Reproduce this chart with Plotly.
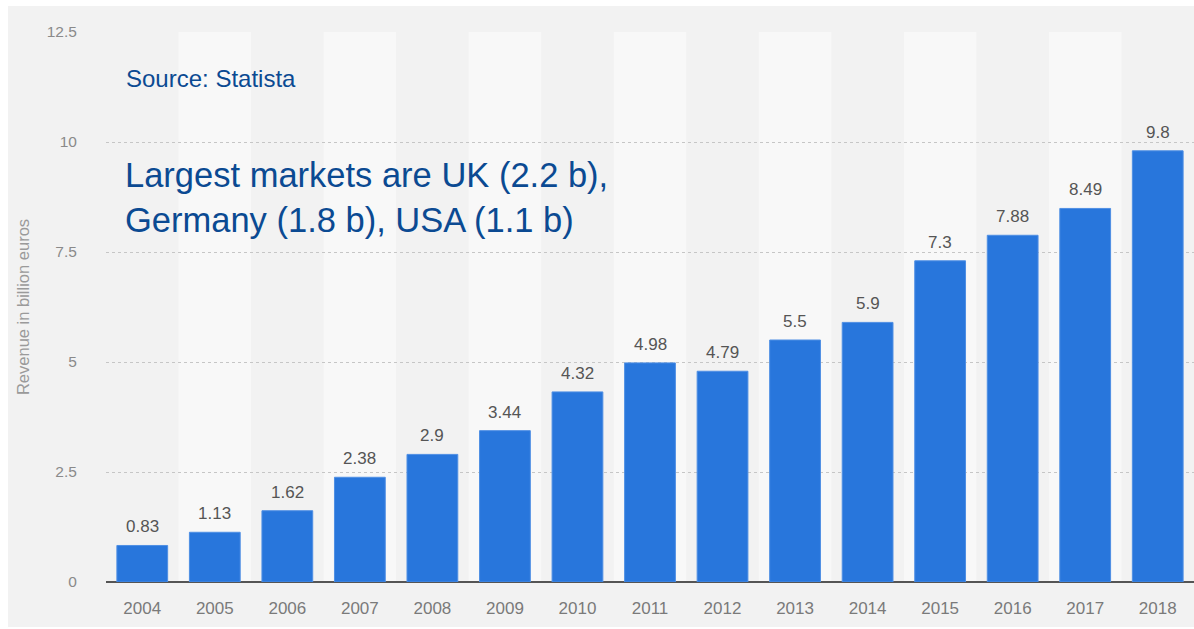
import plotly.graph_objects as go

# Revenue per year, billion euros
years = ["2004", "2005", "2006", "2007", "2008", "2009", "2010", "2011",
         "2012", "2013", "2014", "2015", "2016", "2017", "2018"]
revenue = [0.83, 1.13, 1.62, 2.38, 2.9, 3.44, 4.32, 4.98,
           4.79, 5.5, 5.9, 7.3, 7.88, 8.49, 9.8]
y_ticks = [0, 2.5, 5, 7.5, 10, 12.5]
y_tick_text = ["0", "2.5", "5", "7.5", "10", "12.5"]

W, H = 1194, 629
L, R, T, B = 106, 0, 32, 47
pw, ph = W - L - R, H - T - B

font_family = "Liberation Sans, Arial, sans-serif"
bar_color = "#2876dc"
label_color = "#555555"
tick_color = "#7a7a7a"
note_color = "#0b4a92"

fig = go.Figure()
fig.add_trace(go.Bar(
    x=years, y=revenue, width=0.7,
    marker=dict(color=bar_color, line=dict(color="#4f8fe4", width=1)),
    hoverinfo="x+y", showlegend=False,
))

shapes = [
    # grey card behind the whole chart
    dict(type="rect", xref="paper", yref="paper", layer="below",
         x0=(8 - L) / pw, x1=1.0 + 2 / pw,
         y0=-(H - 2 - (T + ph)) / ph, y1=(T + ph - 6) / ph,
         fillcolor="#f2f2f2", line=dict(width=0)),
]
# lighter bands on alternate year columns
for i in range(1, len(years), 2):
    shapes.append(dict(type="rect", xref="x", yref="paper", layer="below",
                       x0=i - 0.5, x1=i + 0.5, y0=0, y1=1,
                       fillcolor="#f8f8f8", line=dict(width=0)))

# value labels above each bar (category index as x position)
annotations = [
    dict(x=i, y=v, xref="x", yref="y", text=f"{v:g}", showarrow=False,
         yanchor="bottom", yshift=7,
         font=dict(family=font_family, size=17, color=label_color))
    for i, v in enumerate(revenue)
]
annotations += [
    dict(xref="paper", yref="paper", x=(124 - L) / pw, y=(T + ph - 78) / ph,
         xanchor="left", yanchor="middle", showarrow=False,
         text="Source: Statista",
         font=dict(family=font_family, size=24, color=note_color)),
    dict(xref="paper", yref="paper", x=(123 - L) / pw, y=(T + ph - 198) / ph,
         xanchor="left", yanchor="middle", align="left", showarrow=False,
         text="Largest markets are UK (2.2 b),<br>Germany (1.8 b), USA (1.1 b)",
         font=dict(family=font_family, size=34.5, color=note_color)),
]

fig.update_layout(
    width=W, height=H,
    margin=dict(l=L, r=R, t=T, b=B, pad=0),
    paper_bgcolor="white", plot_bgcolor="rgba(0,0,0,0)",
    font=dict(family=font_family),
    bargap=0.3,
    shapes=shapes,
    annotations=annotations,
    xaxis=dict(
        type="category", range=[-0.5, len(years) - 0.5],
        showgrid=False, showline=False, zeroline=False,
        ticks="outside", ticklen=11, tickcolor="rgba(0,0,0,0)",
        tickfont=dict(family=font_family, size=17, color=tick_color),
    ),
    yaxis=dict(
        range=[0, 12.5], tickvals=y_ticks, ticktext=y_tick_text,
        showgrid=True, gridcolor="#c6c6c6", griddash="dot", gridwidth=1,
        zeroline=True, zerolinecolor="#555555", zerolinewidth=2,
        showline=False,
        ticks="outside", ticklen=25, tickcolor="rgba(0,0,0,0)",
        tickfont=dict(family=font_family, size=15.5, color="#8a8a8a"),
        title=dict(text="Revenue in billion euros", standoff=12,
                   font=dict(family=font_family, size=16.5, color="#9a9a9a")),
    ),
)

fig.write_html("out.html")
